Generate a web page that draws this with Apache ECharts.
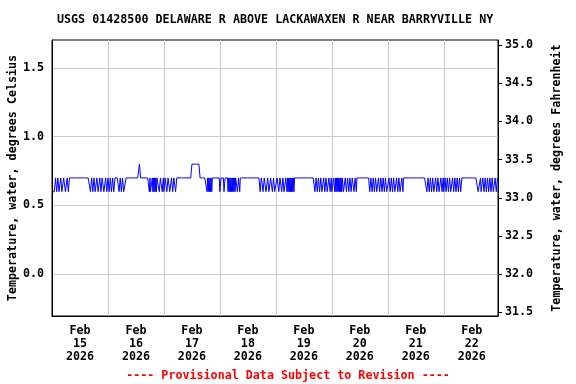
<!DOCTYPE html>
<html><head><meta charset="utf-8">
<script src="https://cdn.jsdelivr.net/npm/echarts@6/dist/echarts.min.js"></script>
<style>html,body{margin:0;padding:0;background:#fff}#c{width:576px;height:384px}</style>
</head><body><div id="c"></div>
<script>
const titleText = "USGS 01428500 DELAWARE R ABOVE LACKAWAXEN R NEAR BARRYVILLE NY";
const noteText = "---- Provisional Data Subject to Revision ----";
const yLeftName = "Temperature, water, degrees Celsius";
const yRightName = "Temperature, water, degrees Fahrenheit";
const dayLabels = ["Feb\n15\n2026","Feb\n16\n2026","Feb\n17\n2026","Feb\n18\n2026","Feb\n19\n2026","Feb\n20\n2026","Feb\n21\n2026","Feb\n22\n2026"];
const dayLabelHours = [12,36,60,84,108,132,156,180];
const stepMinutes = 15;
// 15-minute readings, in tenths of a degree C, one string per day
const feb15 = "666666" + "7766776667766677766677667777" + "7777777777"+"7777777777"+"7777777777"+"77" + "6677667766"+"6776667766"+"7776667766";
const feb16 = "776677667766" + "7777777" + "6677667766" + "66" + "7777777777"+"7777777777"+"777" + "88" + "7777777777"+"77777" + "6766" + "6767676767" + "77766777667";
const feb17 = "6677766777"+"6667766777"+"6677" + "7777777777"+"7777777777"+"7777" + "8888888888"+"8888" + "7777777777"+"77" + "676767676" + "7777777777"+"777";
const feb18 = "66777776677777" + "6767676767676" + "777" + "66776" + "7777777777"+"7777777777"+"7777777777"+"7777" + "6677766777"+"6667766677"+"7667766";
const feb19 = "6677766777"+"667766677" + "67676767676767" + "7777777777"+"7777777777"+"7777777777"+"7777" + "6677667766"+"7766677667"+"766677667";
const feb20 = "66677" + "6767676767676" + "7766677667"+"7667766777"+"66776" + "7777777777"+"7777777777"+"77" + "6677667766"+"7766677667"+"76677667766";
const feb21 = "6677667766"+"7766677667"+"766677677" + "7777777777"+"7777777777"+"7777777777"+"77777777" + "6677667766"+"7766677667"+"766677667";
const feb22 = "6677667766"+"7766677667"+"76677667766" + "7777777777"+"7777777777"+"7777777" + "766667666" + "7766776677"+"6677667766"+"677667";
const days = [feb15, feb16, feb17, feb18, feb19, feb20, feb21, feb22];
const readings = days.join('').split('').map(ch => Number(ch) / 10);
const data = readings.map((v, i) => [i * stepMinutes / 60, v]);

const FONT = 'DejaVu Sans Mono';
const FS = 11.7;
const chart = echarts.init(document.getElementById('c'), null, {renderer: 'canvas'});
chart.setOption({
  animation: false,
  backgroundColor: '#ffffff',
  title: [
    {text: titleText, left: 57, top: 14, padding: 0, textStyle: {fontFamily: FONT, fontWeight: 'bold', fontSize: FS, color: '#000'}},
    {text: noteText, left: 'center', top: 370, padding: 0, textStyle: {fontFamily: FONT, fontWeight: 'bold', fontSize: FS, color: '#ff0000'}}
  ],
  grid: {left: 52, right: 78, top: 40, bottom: 68, show: true, borderColor: '#000', borderWidth: 1,
    backgroundColor: 'transparent', containLabel: false, outerBoundsMode: 'none'},
  xAxis: {
    type: 'value', min: 0, max: 191.25, interval: 24,
    axisLine: {show: true, onZero: false, lineStyle: {color: '#000', width: 1}}, axisTick: {show: false},
    splitLine: {show: true, showMinLine: false, showMaxLine: false, lineStyle: {color: '#cccccc', width: 1}},
    axisLabel: {customValues: dayLabelHours, formatter: v => dayLabels[Math.round((v - 12) / 24)],
      color: '#000', fontFamily: FONT, fontWeight: 'bold', fontSize: FS, lineHeight: 13, margin: 8}
  },
  yAxis: [
    {type: 'value', position: 'left', min: -0.304, max: 1.703, minInterval: 0.5, maxInterval: 0.5, splitNumber: 4,
     axisLine: {show: true, onZero: false, lineStyle: {color: '#000', width: 1}}, axisTick: {show: false},
     splitLine: {show: true, showMinLine: false, showMaxLine: false, lineStyle: {color: '#cccccc', width: 1}},
     axisLabel: {formatter: v => v.toFixed(1), showMinLabel: false, showMaxLabel: false, margin: 8,
       color: '#000', fontFamily: FONT, fontWeight: 'bold', fontSize: FS},
     name: yLeftName, nameLocation: 'middle', nameGap: 33, nameRotate: 90, nameMoveOverlap: false,
     nameTextStyle: {color: '#000', fontFamily: FONT, fontWeight: 'bold', fontSize: FS}},
    {type: 'value', position: 'right', min: 31.4528, max: 35.0654, minInterval: 0.5, maxInterval: 0.5, splitNumber: 7,
     axisLine: {show: true, onZero: false, lineStyle: {color: '#000', width: 1}},
     axisTick: {show: true, inside: false, length: 4, lineStyle: {color: '#000'}},
     splitLine: {show: false},
     axisLabel: {formatter: v => v.toFixed(1), showMinLabel: false, showMaxLabel: false, margin: 7,
       color: '#000', fontFamily: FONT, fontWeight: 'bold', fontSize: FS},
     name: yRightName, nameLocation: 'middle', nameGap: 53, nameRotate: 90, nameMoveOverlap: false,
     nameTextStyle: {color: '#000', fontFamily: FONT, fontWeight: 'bold', fontSize: FS}}
  ],
  series: [{
    type: 'line', data: data, yAxisIndex: 0, showSymbol: false, symbol: 'none',
    lineStyle: {color: '#0000ff', width: 1}, itemStyle: {color: '#0000ff'}, silent: true
  }]
});
</script></body></html>
